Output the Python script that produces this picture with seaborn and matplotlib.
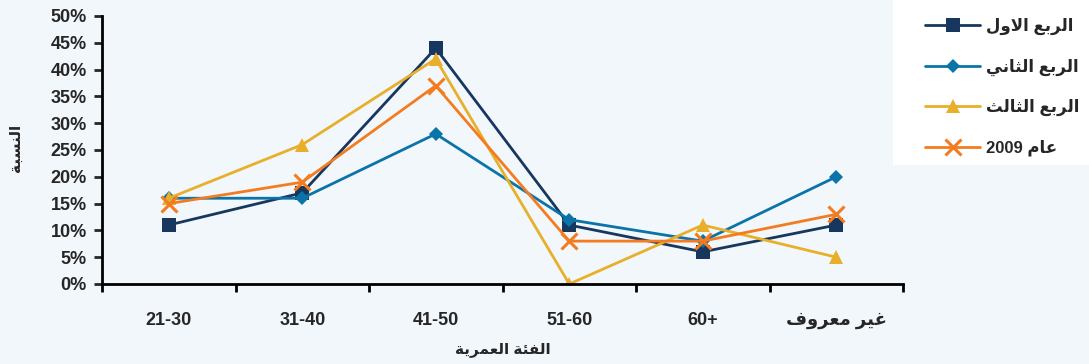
import re
import matplotlib
matplotlib.use('Agg')
import matplotlib.pyplot as plt
import seaborn as sns
import pandas as pd
from matplotlib.patches import Rectangle
from matplotlib.ticker import FixedLocator, FuncFormatter

age_groups = ['21-30', '31-40', '41-50', '51-60', '60+', 'غير معروف']
series_names = ['الربع الاول', 'الربع الثاني', 'الربع الثالث', 'عام 2009']
q1 = [11, 17, 44, 11, 6, 11]
q2 = [16, 16, 28, 12, 8, 20]
q3 = [16, 26, 42, 0, 11, 5]
y2009 = [15, 19, 37, 8, 8, 13]

colors = ['#17375E', '#0A74A8', '#E8B02A', '#F47C20']
markers = ['s', 'D', '^', 'x']
msizes = [10, 7, 10, 11]

# arabic shaping by hand (matplotlib does not join letters)
FORMS = {
    'ا': ('\uFE8D', '\uFE8E', None, None),
    'ب': ('\uFE8F', '\uFE90', '\uFE91', '\uFE92'),
    'ة': ('\uFE93', '\uFE94', None, None),
    'ث': ('\uFE99', '\uFE9A', '\uFE9B', '\uFE9C'),
    'ر': ('\uFEAD', '\uFEAE', None, None),
    'س': ('\uFEB1', '\uFEB2', '\uFEB3', '\uFEB4'),
    'ع': ('\uFEC9', '\uFECA', '\uFECB', '\uFECC'),
    'غ': ('\uFECD', '\uFECE', '\uFECF', '\uFED0'),
    'ف': ('\uFED1', '\uFED2', '\uFED3', '\uFED4'),
    'ل': ('\uFEDD', '\uFEDE', '\uFEDF', '\uFEE0'),
    'م': ('\uFEE1', '\uFEE2', '\uFEE3', '\uFEE4'),
    'ن': ('\uFEE5', '\uFEE6', '\uFEE7', '\uFEE8'),
    'و': ('\uFEED', '\uFEEE', None, None),
    'ي': ('\uFEF1', '\uFEF2', '\uFEF3', '\uFEF4'),
    'ئ': ('\uFE89', '\uFE8A', '\uFE8B', '\uFE8C'),
}


def shape(text):
    if not any(ch in FORMS for ch in text):
        return text
    chars = list(text)
    n = len(chars)
    res = []
    i = 0
    while i < n:
        c = chars[i]
        if c not in FORMS:
            res.append(c)
            i += 1
            continue
        prev = chars[i - 1] if i > 0 else None
        link_prev = prev in FORMS and FORMS[prev][2] is not None
        if c == 'ل' and i + 1 < n and chars[i + 1] == 'ا':
            res.append('\uFEFC' if link_prev else '\uFEFB')
            i += 2
            continue
        nxt = chars[i + 1] if i + 1 < n else None
        link_next = FORMS[c][2] is not None and nxt in FORMS
        iso, fin, ini, med = FORMS[c]
        if link_prev and link_next:
            res.append(med)
        elif link_prev:
            res.append(fin)
        elif link_next:
            res.append(ini)
        else:
            res.append(iso)
        i += 1
    visual = ''.join(reversed(res))
    return re.sub(r'[0-9]+', lambda m: m.group(0)[::-1], visual)


sns.set_style('ticks')
plt.rcParams['font.family'] = ['Liberation Sans', 'DejaVu Sans']
plt.rcParams['font.weight'] = 'bold'

bg = '#F2F7FB'
fig = plt.figure(figsize=(10.89, 3.64), dpi=100, facecolor=bg)
ax = fig.add_axes([102 / 1089, 1 - 284 / 364, (903 - 102) / 1089, (284 - 16) / 364])
ax.set_facecolor(bg)

labels_x = [shape(a) for a in age_groups]
rows = []
for name, vals in zip(series_names, [q1, q2, q3, y2009]):
    for k, v in enumerate(vals):
        rows.append({'group': labels_x[k], 'series': shape(name), 'value': v})
df = pd.DataFrame(rows)

for idx, name in enumerate(series_names):
    sub = df[df['series'] == shape(name)]
    sns.lineplot(data=sub, x='group', y='value', ax=ax, color=colors[idx],
                 marker=markers[idx], markersize=msizes[idx], linewidth=2,
                 markeredgewidth=2.2 if markers[idx] == 'x' else 0,
                 markeredgecolor=colors[idx], label=shape(name), sort=False)

ax.set_xlim(-0.5, 5.5)
ax.set_ylim(0, 50)
ax.yaxis.set_major_locator(FixedLocator(list(range(0, 51, 5))))
ax.yaxis.set_major_formatter(FuncFormatter(lambda v, p: f'{v:.0f}%'))
ax.xaxis.set_minor_locator(FixedLocator([i - 0.5 for i in range(7)]))
ax.tick_params(axis='x', which='major', length=0, pad=20, labelsize=13)
ax.tick_params(axis='x', which='minor', length=6, width=2, color='black')
ax.tick_params(axis='y', length=6, width=2, labelsize=13, pad=5)
for lab in ax.get_xticklabels() + ax.get_yticklabels():
    lab.set_fontweight('bold')
for s in ['top', 'right']:
    ax.spines[s].set_visible(False)
for s in ['left', 'bottom']:
    ax.spines[s].set_linewidth(2)
    ax.spines[s].set_color('black')
ax.set_xlabel(shape('الفئة العمرية'), fontsize=11, fontweight='bold')
ax.set_ylabel(shape('النسبة'), fontsize=11, fontweight='bold')
ax.xaxis.set_label_coords(0.5, (284 - 342) / 268)
ax.yaxis.set_label_coords((23 - 102) / 801, (284 - 148) / 268)

ax.legend_.remove()
# white box behind the legend
fig.patches.append(Rectangle((893 / 1089, 1 - 165 / 364), 196 / 1089, 165 / 364,
                             transform=fig.transFigure, facecolor='white',
                             edgecolor='none', zorder=0))
handles, labs = ax.get_legend_handles_labels()
leg = fig.legend(handles, labs, loc='upper left', bbox_to_anchor=(925 / 1089, 1 - 18 / 364),
                 frameon=False, handlelength=3.3, labelspacing=1.4, handletextpad=0.36,
                 borderpad=0, borderaxespad=0, prop={'weight': 'bold', 'size': 12})

fig.savefig('out.png', dpi=100, facecolor=bg)
